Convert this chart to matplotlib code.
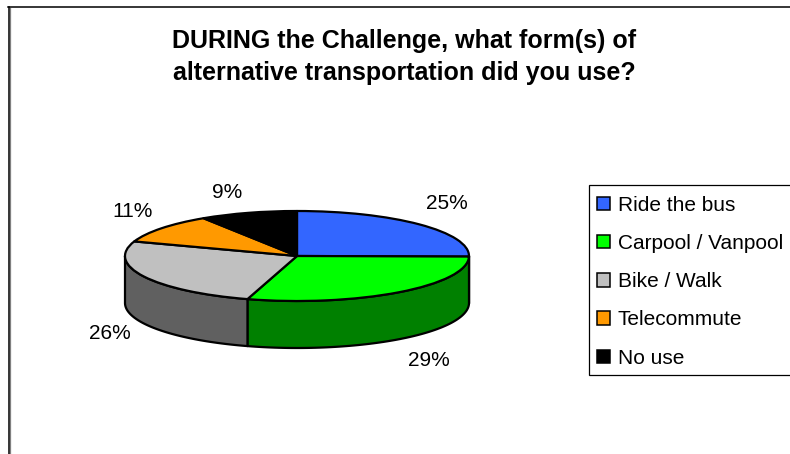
import numpy as np
import matplotlib
matplotlib.use("Agg")
import matplotlib.pyplot as plt
from matplotlib.lines import Line2D
from matplotlib.patches import Patch, Polygon, Rectangle

plt.rcParams['font.family'] = ['Liberation Sans', 'DejaVu Sans']

TITLE = "DURING the Challenge, what form(s) of\nalternative transportation did you use?"
categories = ["Ride the bus", "Carpool / Vanpool", "Bike / Walk", "Telecommute", "No use"]
values = [25.2, 29.45, 25.6, 10.6, 9.15]
top_colors = ["#3366FF", "#00FF00", "#C0C0C0", "#FF9900", "#000000"]
side_colors = ["#1A3380", "#008000", "#606060", "#804D00", "#000000"]
label_px = [(447, 203.5), (429, 361), (110, 333.5), (133, 211.5), (227, 193)]

W, H = 790, 454
DPI = 100
LW = 1.6
fig = plt.figure(figsize=(W / DPI, H / DPI), dpi=DPI, facecolor="white")

def fx(px):
    return px / W

def fy(py):
    return 1 - py / H

# Chart-area frame (only top and left edges are visible)
fig.add_artist(Line2D([fx(9.8), fx(9.8)], [fy(8), 0], color="#808080", lw=0.9))
fig.add_artist(Line2D([fx(8.5), fx(8.5)], [fy(7.3), 0], color="black", lw=1.1))
fig.add_artist(Line2D([fx(8), 1], [fy(7.3), fy(7.3)], color="black", lw=1.1))

# Pie: x spans 125..469 px, top ellipse centred at y=256 px with ry=45 px, depth 47 px
RY_PX = 45.0
DEPTH = 47.0 / RY_PX
left, right, top, bottom = 125, 469, 211, 348
ax = fig.add_axes([fx(left), fy(bottom), fx(right - left), (bottom - top) / H])
wedges, _ = ax.pie(values, colors=top_colors, startangle=90, counterclock=False,
                   wedgeprops=dict(edgecolor="black", linewidth=LW, clip_on=False, joinstyle="round"))
for w in wedges:
    w.set_zorder(3)

# Extruded rim, from the same cumulative angles the pie uses
edges = np.concatenate([[0], np.cumsum(values)]) / np.sum(values) * 360
for a0, a1, c in zip(edges[:-1], edges[1:], side_colors):
    lo, hi = max(a0, 90), min(a1, 270)
    if hi <= lo:
        continue
    t = np.radians(np.linspace(lo, hi, 80))
    x, y = np.sin(t), np.cos(t)
    pts = np.column_stack([np.r_[x, x[::-1]], np.r_[y, y[::-1] - DEPTH]])
    ax.add_patch(Polygon(pts, closed=True, facecolor=c, edgecolor="black", linewidth=LW,
                         clip_on=False, zorder=2, joinstyle="round"))

ax.set_aspect("auto")
ax.set_xlim(-1, 1)
ax.set_ylim(-1 - DEPTH, 1)
ax.axis("off")

# Percentage labels
for v, (px, py) in zip(values, label_px):
    fig.text(fx(px), fy(py), f"{v:.0f}%", ha="center", va="center", fontsize=15, color="black")

# Title
fig.text(fx(404), fy(57), TITLE, ha="center", va="center", fontsize=18, fontweight="bold",
         linespacing=1.47, color="black")

# Legend box runs past the right edge of the picture
fig.add_artist(Rectangle((fx(589), fy(375)), fx(230), (375 - 185) / H, transform=fig.transFigure,
                         facecolor="white", edgecolor="black", linewidth=0.9, zorder=1))
handles = [Patch(facecolor=c, edgecolor="black", linewidth=1.1) for c in top_colors]
leg = fig.legend(handles, categories, loc="upper left", bbox_to_anchor=(fx(589), fy(188)),
                 bbox_transform=fig.transFigure, fontsize=15, frameon=False,
                 borderaxespad=0, borderpad=0.38, handlelength=0.62, handleheight=0.62,
                 handletextpad=0.38, labelspacing=0.92)
leg.set_zorder(2)

fig.savefig("out.png", dpi=DPI, facecolor="white")
